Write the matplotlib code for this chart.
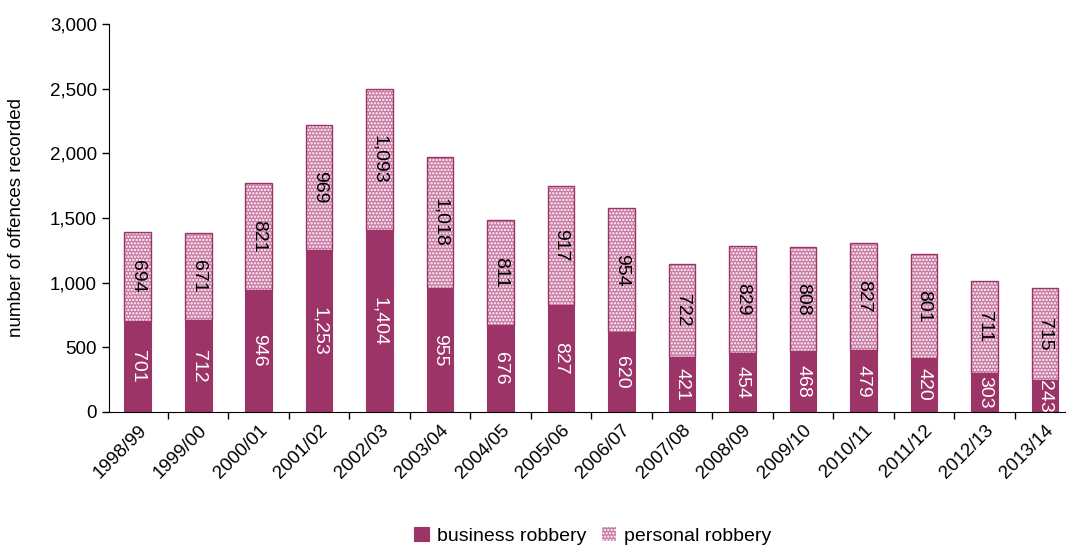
import matplotlib.pyplot as plt
from matplotlib.ticker import FuncFormatter
import numpy as np

years = ['1998/99', '1999/00', '2000/01', '2001/02', '2002/03', '2003/04', '2004/05', '2005/06',
         '2006/07', '2007/08', '2008/09', '2009/10', '2010/11', '2011/12', '2012/13', '2013/14']
business = [701, 712, 946, 1253, 1404, 955, 676, 827, 620, 421, 454, 468, 479, 420, 303, 243]
personal = [694, 671, 821, 969, 1093, 1018, 811, 917, 954, 722, 829, 808, 827, 801, 711, 715]

plt.rcParams['font.family'] = ['Liberation Sans', 'DejaVu Sans']
plt.rcParams['hatch.linewidth'] = 1.1

dark = '#9c3468'
pink = '#c97aa3'

fig = plt.figure(figsize=(10.66, 5.47), dpi=100)
ax = fig.add_axes([0.102, 0.247, 0.898, 0.709])

x = np.arange(len(years))
w = 0.44
b1 = ax.bar(x, business, w, color=dark, edgecolor=dark, linewidth=0.8, label='business robbery')
# dotted fill first, then the outline on top
b2 = ax.bar(x, personal, w, bottom=business, color=pink, edgecolor='white', linewidth=0,
            hatch='.....', label='personal robbery')
ax.bar(x, personal, w, bottom=business, fill=False, edgecolor=dark, linewidth=1.0)

# value labels, rotated, centred in each segment
for i in range(len(years)):
    ax.text(x[i], business[i] / 2, format(business[i], ','), rotation=270, ha='center', va='center',
            color='white', fontsize=14)
    ax.text(x[i], business[i] + personal[i] / 2, format(personal[i], ','), rotation=270,
            ha='center', va='center', color='black', fontsize=14)

ax.set_ylim(0, 3000)
ax.set_xlim(-0.48, 15.35)
ax.set_yticks(range(0, 3001, 500))
ax.yaxis.set_major_formatter(FuncFormatter(lambda v, p: format(int(v), ',')))

# category labels under the bars, tick marks between them
ax.set_xticks(x)
ax.set_xticklabels(years, rotation=45, ha='right', rotation_mode='anchor')
ax.set_xticks(x[:-1] + 0.5, minor=True)
ax.tick_params(axis='x', which='major', length=0, pad=7, labelsize=13.5)
ax.tick_params(axis='x', which='minor', length=5, width=1, direction='out')
ax.tick_params(axis='y', labelsize=13.5, direction='out', length=5, width=1)

ax.set_ylabel('number of offences recorded', fontsize=13.5)
ax.yaxis.set_label_coords(-0.087, 0.5)
ax.spines['top'].set_visible(False)
ax.spines['right'].set_visible(False)

fig.legend(handles=[b1, b2], loc='lower center', bbox_to_anchor=(0.556, -0.028), ncol=2,
           frameon=False, fontsize=14, handlelength=0.75, handleheight=0.75, handletextpad=0.4,
           columnspacing=0.8)

fig.savefig('out.png', dpi=100)
